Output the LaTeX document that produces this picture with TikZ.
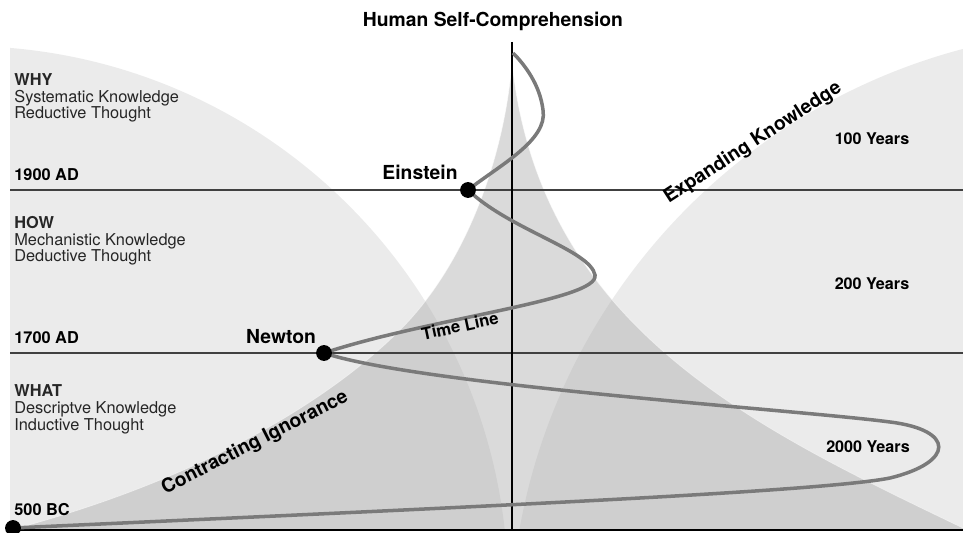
\documentclass[tikz,border=0pt]{standalone}
\usepackage{fontspec}
\setmainfont{TeX Gyre Heros}
\definecolor{paleknow}{HTML}{EBEBEB}
\definecolor{midknow}{HTML}{DADADA}
\definecolor{darkknow}{HTML}{CFCFCF}
\definecolor{timegray}{HTML}{7A7A7A}

\begin{document}
\begin{tikzpicture}[x=0.02cm, y=-0.02cm,
    eratext/.style={font=\fontsize{9.3}{9.6}\selectfont, text=black!85, align=left, anchor=base west, inner sep=0pt},
    datetext/.style={font=\fontsize{9.3}{11}\selectfont\bfseries, anchor=base west, inner sep=0pt},
    person/.style={font=\fontsize{11}{13}\selectfont\bfseries, anchor=base, inner sep=0pt},
    spantext/.style={font=\fontsize{9.2}{11}\selectfont\bfseries, anchor=base, inner sep=0pt},
    slopetext/.style={font=\fontsize{11}{13}\selectfont\bfseries, inner sep=0pt},
    yeardot/.style={circle, fill=black, inner sep=0pt, minimum size=9pt},
    timeline/.style={draw=timegray, line width=2pt},
    eraline/.style={draw=black!75, line width=1pt}]
        \useasboundingbox (0,0) rectangle (963,533);
        \begin{scope}
            \clip (10,0) rectangle (963,530);
            \fill[paleknow] (-36,590) circle (544);
            \fill[paleknow] (1118,637) circle (608);
        \end{scope}
        \begin{scope}
            \clip (10,530) .. controls (200,480) and (330,400) .. (400,330) .. controls (470,260) and (505,150) .. (512,62)
                .. controls (540,330) and (760,430) .. (963,528) -- (963,530) -- cycle;
            \fill[midknow] (0,0) rectangle (963,533);
            \fill[darkknow] (-36,590) circle (544);
            \fill[darkknow] (1118,637) circle (608);
        \end{scope}
        \draw[white, opacity=0.6, line width=0.4pt] (10,530) .. controls (200,480) and (330,400) .. (400,330) .. controls (470,260) and (505,150) .. (512,62)
            .. controls (540,330) and (760,430) .. (963,528);

        \draw[eraline] (10,190) -- (963,190);
        \draw[eraline] (10,353) -- (963,353);
        \draw[line width=1.6pt] (10,530) -- (963,530);
        \draw[line width=0.8pt] (512,42) -- (512,530);

        \draw[timeline] (13,528) node[yeardot] (bc) {}
            .. controls (450,508) and (820,492) .. (890,478)
            .. controls (955,462) and (955,430) .. (890,422)
            .. controls (800,410) and (420,385) .. (324,353) node[yeardot] (newton) {}
            .. controls (430,318) and (600,300) .. (595,275)
            .. controls (590,250) and (510,230) .. (468,190) node[yeardot] (einstein) {}
            .. controls (500,165) and (548,140) .. (543,110)
            .. controls (540,85) and (525,65) .. (513,53);

        \node[font=\fontsize{11}{13}\selectfont\bfseries, inner sep=0pt] (title) at (493,21) {Human Self-Comprehension};

        \node[eratext] (why) at (14,119) {\textbf{WHY}\\Systematic Knowledge\\Reductive Thought};
        \node[eratext] (how) at (14,262) {\textbf{HOW}\\Mechanistic Knowledge\\Deductive Thought};
        \node[eratext] (what) at (14,430) {\textbf{WHAT}\\Descriptve Knowledge\\Inductive Thought};
        \node[datetext] (ad1900) at (14,181) {1900 AD};
        \node[datetext] (ad1700) at (14,343) {1700 AD};
        \node[datetext] (bc500) at (14,515) {500 BC};

        \node[person] (einsteinlabel) at (420,180) {Einstein};
        \node[person] (newtonlabel) at (281,343) {Newton};

        \node[spantext] (years100) at (872,145) {100 Years};
        \node[spantext] (years200) at (872,290) {200 Years};
        \node[spantext] (years2000) at (868,452) {2000 Years};

        \node[slopetext, rotate=33] (expanding) at (753,143) {Expanding Knowledge};
        \node[slopetext, rotate=27] (contracting) at (255,443) {Contracting Ignorance};
        \node[slopetext, font=\fontsize{9.5}{11}\selectfont\bfseries, rotate=12] (timelabel) at (460,326) {Time Line};
\end{tikzpicture}
\end{document}
